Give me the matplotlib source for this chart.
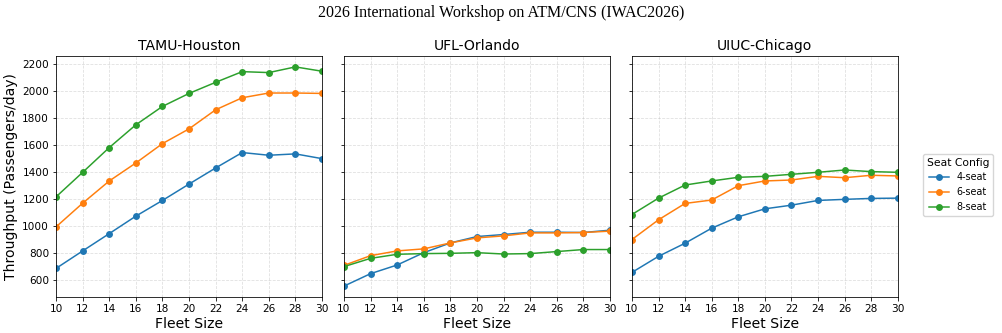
import matplotlib
matplotlib.use("Agg")
import matplotlib.pyplot as plt

fleet_sizes = [10, 12, 14, 16, 18, 20, 22, 24, 26, 28, 30]
sites = ["TAMU-Houston", "UFL-Orlando", "UIUC-Chicago"]
seat_labels = ["4-seat", "6-seat", "8-seat"]

tamu_4 = [689, 818, 946, 1075, 1191, 1312, 1431, 1545, 1525, 1535, 1500]
tamu_6 = [996, 1171, 1335, 1468, 1611, 1720, 1861, 1950, 1985, 1985, 1982]
tamu_8 = [1218, 1399, 1582, 1750, 1886, 1982, 2064, 2143, 2136, 2178, 2146]

ufl_4 = [558, 650, 714, 805, 877, 924, 939, 956, 956, 954, 971]
ufl_6 = [711, 783, 818, 833, 877, 914, 929, 951, 951, 954, 964]
ufl_8 = [702, 763, 793, 798, 800, 805, 795, 798, 813, 828, 828]

uiuc_4 = [659, 778, 875, 986, 1070, 1129, 1156, 1191, 1199, 1206, 1208]
uiuc_6 = [902, 1048, 1169, 1194, 1300, 1335, 1342, 1369, 1359, 1377, 1372]
uiuc_8 = [1087, 1208, 1305, 1335, 1362, 1369, 1384, 1399, 1416, 1404, 1399]

data = {
    "TAMU-Houston": [tamu_4, tamu_6, tamu_8],
    "UFL-Orlando": [ufl_4, ufl_6, ufl_8],
    "UIUC-Chicago": [uiuc_4, uiuc_6, uiuc_8],
}
colors = ["#1f77b4", "#ff7f0e", "#2ca02c"]

s = 0.72
plt.rcParams.update({
    "axes.linewidth": 0.8 * s,
    "xtick.major.size": 3.5 * s,
    "ytick.major.size": 3.5 * s,
    "xtick.major.width": 0.8 * s,
    "ytick.major.width": 0.8 * s,
    "xtick.major.pad": 3.5 * s,
    "ytick.major.pad": 3.5 * s,
    "axes.labelpad": 4.0 * s,
    "axes.titlepad": 6.0 * s,
})

fig, axes = plt.subplots(1, 3, figsize=(10.02, 3.33), dpi=100, sharey=True)
fig.subplots_adjust(left=0.056, right=0.896, top=0.832, bottom=0.108, wspace=0.083)

for ax, site in zip(axes, sites):
    for series, lab, c in zip(data[site], seat_labels, colors):
        ax.plot(fleet_sizes, series, marker="o", markersize=5.5 * s, linewidth=1.5 * s,
                color=c, label=lab)
    ax.set_title(site, fontsize=14 * s)
    ax.set_xlabel("Fleet Size", fontsize=14 * s, labelpad=2.5 * s)
    ax.set_xlim(10, 30)
    ax.set_xticks(list(range(10, 31, 2)))
    ax.grid(True, linestyle="--", alpha=0.4, linewidth=0.8 * s)
    ax.tick_params(labelsize=10.5 * s)

axes[0].set_ylabel("Throughput (Passengers/day)", fontsize=14 * s)

handles, labels = axes[0].get_legend_handles_labels()
fig.legend(handles, labels, title="Seat Config", loc="center left",
           bbox_to_anchor=(0.916, 0.445), fontsize=9.7 * s, title_fontsize=10.7 * s)

fig.suptitle("2026 International Workshop on ATM/CNS (IWAC2026)",
             family="Liberation Serif", fontsize=16 * s, y=0.985)

fig.savefig("out.png", dpi=100)
